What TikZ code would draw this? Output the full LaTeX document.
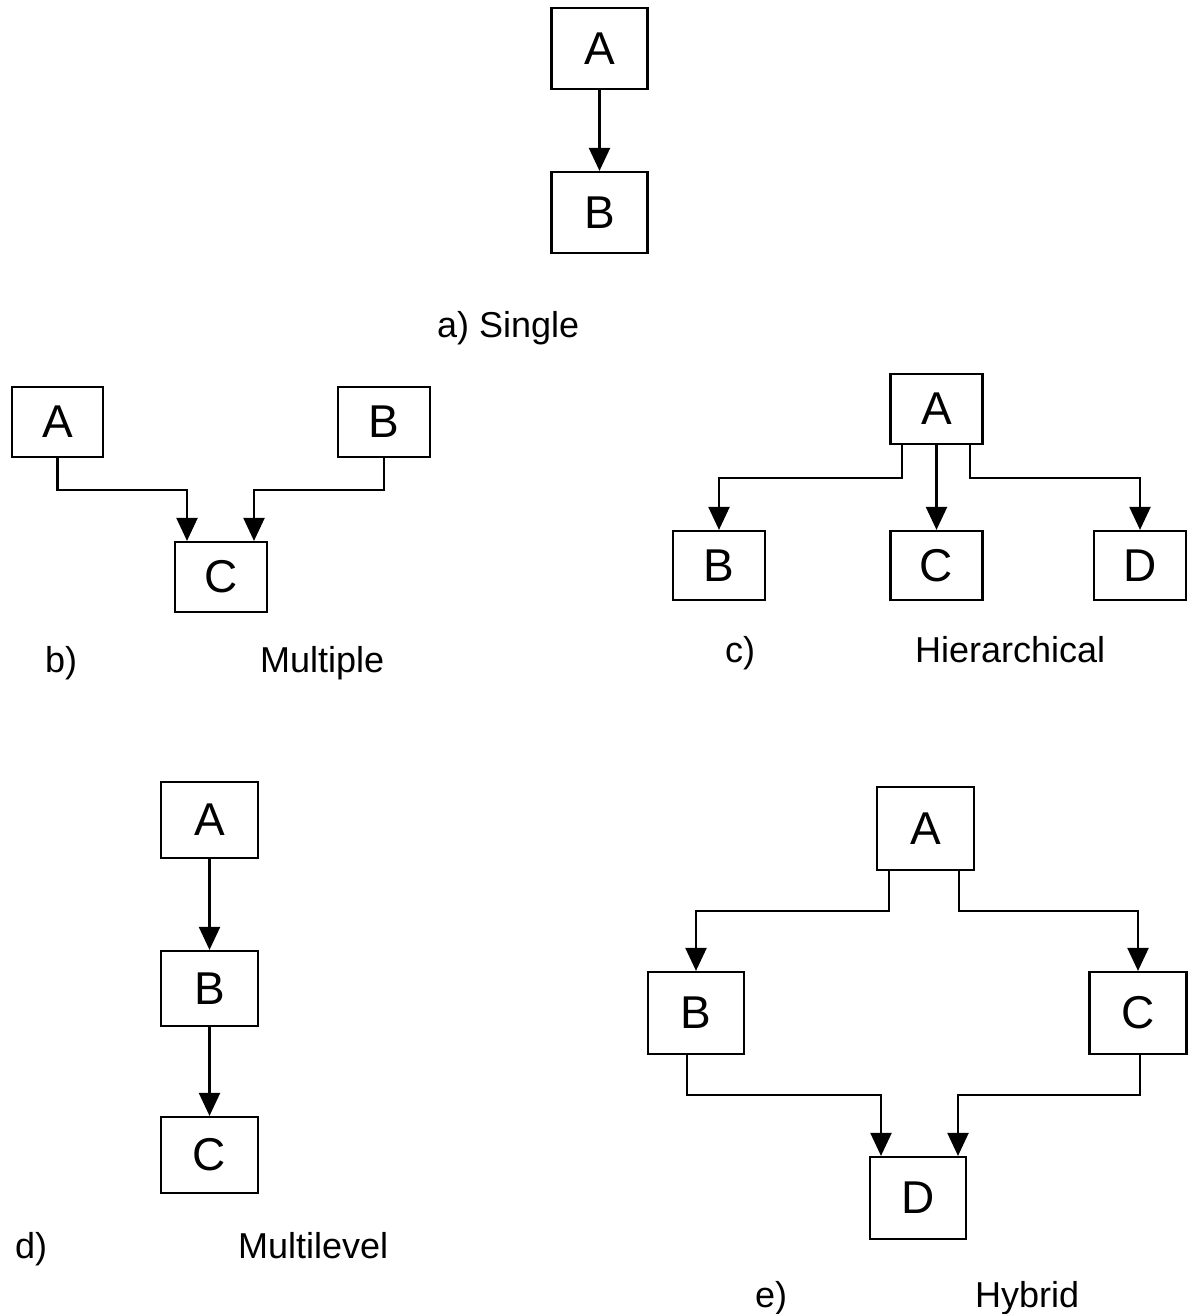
\documentclass[tikz,border=0pt]{standalone}
\usepackage{fontspec}
\setmainfont{Liberation Sans}
\usetikzlibrary{arrows.meta,calc}
\begin{document}
\begin{tikzpicture}[x=1pt,y=-1pt,
  box/.style={draw,line width=2.2pt,fill=white,inner sep=0pt,font=\fontsize{46}{52}\selectfont},
  lbl/.style={anchor=base west,inner sep=0pt,font=\fontsize{36}{42}\selectfont},
  arr/.style={line width=2.2pt,-{Triangle[length=23pt,width=21pt]}}]
\useasboundingbox[fill=white] (0,0) rectangle (1188,1314);

% a) Single
\node[box,minimum width=96pt,minimum height=81pt] (aA) at (599.5,48.5) {A};
\node[box,minimum width=96pt,minimum height=81pt] (aB) at (599.5,212.5) {B};
\draw[arr] (aA) -- (aB);
\node[lbl] (aL) at (437,337) {a) Single};

% b) Multiple
\node[box,minimum width=91pt,minimum height=70pt] (bA) at (57.5,422) {A};
\node[box,minimum width=92pt,minimum height=70pt] (bB) at (384,422) {B};
\node[box,minimum width=92pt,minimum height=70pt] (bC) at (221,577) {C};
\coordinate (bH) at (0,490);
\coordinate (bCl) at ([xshift=-34pt]bC.north);
\coordinate (bCr) at ([xshift=33pt]bC.north);
\draw[arr] (bA.south) |- (bCl |- bH) -- (bCl);
\draw[arr] (bB.south) |- (bCr |- bH) -- (bCr);
\node[lbl] (bL1) at (45,672) {b)};
\node[lbl] (bL2) at (260,672) {Multiple};

% c) Hierarchical
\node[box,minimum width=92pt,minimum height=70pt] (cA) at (936.5,409) {A};
\node[box,minimum width=92pt,minimum height=69pt] (cB) at (719,565.5) {B};
\node[box,minimum width=92pt,minimum height=69pt] (cC) at (936.5,565.5) {C};
\node[box,minimum width=92pt,minimum height=69pt] (cD) at (1140,565.5) {D};
\coordinate (cH) at (0,478);
\draw[arr] ([xshift=-34.5pt]cA.south) |- (cB.north |- cH) -- (cB.north);
\draw[arr] (cA.south) -- (cC.north);
\draw[arr] ([xshift=33.5pt]cA.south) |- (cD.north |- cH) -- (cD.north);
\node[lbl] (cL1) at (725,662) {c)};
\node[lbl] (cL2) at (915,662) {Hierarchical};

% d) Multilevel
\node[box,minimum width=97pt,minimum height=76pt] (dA) at (209.5,820) {A};
\node[box,minimum width=97pt,minimum height=75pt] (dB) at (209.5,988.5) {B};
\node[box,minimum width=97pt,minimum height=76pt] (dC) at (209.5,1155) {C};
\draw[arr] (dA) -- (dB);
\draw[arr] (dB) -- (dC);
\node[lbl] (dL1) at (15,1258) {d)};
\node[lbl] (dL2) at (238,1258) {Multilevel};

% e) Hybrid
\node[box,minimum width=97pt,minimum height=83pt] (eA) at (925.5,828.5) {A};
\node[box,minimum width=96pt,minimum height=82pt] (eB) at (696,1013) {B};
\node[box,minimum width=97pt,minimum height=82pt] (eC) at (1138,1013) {C};
\node[box,minimum width=96pt,minimum height=82pt] (eD) at (918,1198) {D};
\coordinate (eH1) at (0,911);
\coordinate (eH2) at (0,1095);
\coordinate (eDl) at ([xshift=-37pt]eD.north);
\coordinate (eDr) at ([xshift=40pt]eD.north);
\draw[arr] ([xshift=-36.5pt]eA.south) |- (eB.north |- eH1) -- (eB.north);
\draw[arr] ([xshift=33.5pt]eA.south) |- (eC.north |- eH1) -- (eC.north);
\draw[arr] ([xshift=-9pt]eB.south) |- (eDl |- eH2) -- (eDl);
\draw[arr] ([xshift=2pt]eC.south) |- (eDr |- eH2) -- (eDr);
\node[lbl] (eL1) at (755,1307) {e)};
\node[lbl] (eL2) at (975,1307) {Hybrid};
\end{tikzpicture}
\end{document}
